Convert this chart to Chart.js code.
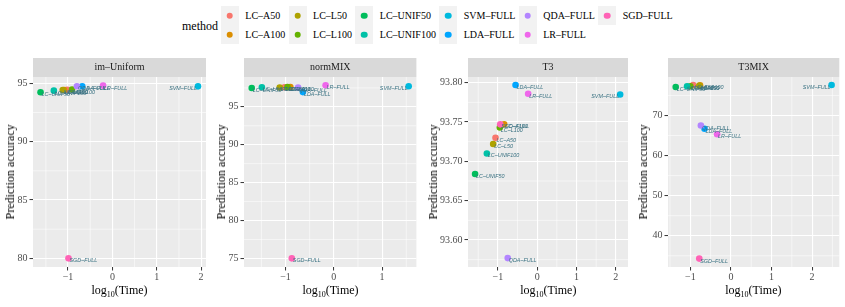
<!DOCTYPE html>
<html><head><meta charset="utf-8">
<script src="https://cdn.jsdelivr.net/npm/chart.js@4.4.1/dist/chart.umd.min.js"></script>
<style>
body{margin:0;background:#fff;width:845px;height:307px;overflow:hidden;position:relative;font-family:"Liberation Serif","Times New Roman",serif;color:#000;}
canvas{position:absolute;}
.xt{position:absolute;font-size:12px;font-weight:normal;transform:translate(-50%,-50%);white-space:nowrap;z-index:2;}
.xt sub{font-size:8px;}
.yt{position:absolute;font-size:12px;font-weight:normal;writing-mode:vertical-rl;transform:translate(-50%,-50%) rotate(180deg);white-space:nowrap;z-index:2;line-height:1;}
#legtitle{position:absolute;left:182px;top:26px;transform:translateY(-50%);font-size:12px;}
#legend{position:absolute;left:221px;top:6px;display:grid;grid-template-rows:19px 19px;grid-auto-flow:column;}
.item{display:flex;align-items:center;font-size:10px;white-space:nowrap;}
.key{width:17.8px;height:19px;background:#F2F2F2;position:relative;}
.dot{position:absolute;left:50%;top:50%;width:6.6px;height:6.6px;border-radius:50%;transform:translate(-50%,-50%);}
.lab{margin-left:6.5px;margin-right:3.5px;}
</style>
</head><body>
<div id="legtitle">method</div>
<div id="legend"></div>
<script>
// ---- data ----
const methods = ['LC–A50','LC–A100','LC–L50','LC–L100','LC–UNIF50','LC–UNIF100','SVM–FULL','LDA–FULL','QDA–FULL','LR–FULL','SGD–FULL'];
const methodColors = ['#F8766D','#DB8E00','#AEA200','#64B200','#00BD5C','#00C1A7','#00BADE','#00A6FF','#B385FF','#EF67EB','#FF63B6'];
const panelNames = ['im–Uniform','normMIX','T3','T3MIX'];

const imUniformTime = [-1.02,-1.09,-1.12,-0.91,-1.62,-1.32,1.93,-0.68,-0.80,-0.21,-0.99];
const imUniformAcc  = [94.44,94.43,94.42,94.46,94.23,94.37,94.74,94.74,94.75,94.80,80.00];
const normMixTime = [-1.02,-0.90,-1.12,-0.96,-1.70,-1.49,1.55,-0.64,-0.74,-0.17,-0.87];
const normMixAcc  = [97.58,97.60,97.56,97.60,97.49,97.58,97.72,96.95,97.55,97.85,75.00];
const t3Time = [-1.06,-0.84,-1.12,-0.95,-1.58,-1.28,2.11,-0.55,-0.75,-0.23,-0.94];
const t3Acc  = [93.730,93.747,93.722,93.743,93.684,93.710,93.785,93.797,93.577,93.786,93.747];
const t3MixTime = [-0.93,-0.76,-0.78,-1.00,-1.36,-1.08,2.48,-0.65,-0.74,-0.34,-0.78];
const t3MixAcc  = [77.6,77.5,77.4,77.3,77.1,77.3,77.6,66.7,67.5,65.3,34.3];

const imUniformXTicks = [-1,0,1,2];
const imUniformYTicks = [80,85,90,95];
const normMixXTicks = [-1,0,1];
const normMixYTicks = [75,80,85,90,95];
const t3XTicks = [-1,0,1,2];
const t3YTicks = [93.60,93.65,93.70,93.75,93.80];
const t3MixXTicks = [-1,0,1,2];
const t3MixYTicks = [40,50,60,70];

// ---- layout / scale settings ----
const panels = [
  {name:panelNames[0], time:imUniformTime, acc:imUniformAcc, xt:imUniformXTicks, yt:imUniformYTicks, xr:[-1.79,2.11], yr:[79.26,95.54], left:33, right:206, ytx:10, dec:0},
  {name:panelNames[1], time:normMixTime, acc:normMixAcc, xt:normMixXTicks, yt:normMixYTicks, xr:[-1.86,1.71], yr:[73.86,98.94], left:244.3, right:416.7, ytx:221, dec:0},
  {name:panelNames[2], time:t3Time, acc:t3Acc, xt:t3XTicks, yt:t3YTicks, xr:[-1.76,2.31], yr:[93.5657,93.8072], left:468.3, right:628.3, ytx:433, dec:2},
  {name:panelNames[3], time:t3MixTime, acc:t3MixAcc, xt:t3MixXTicks, yt:t3MixYTicks, xr:[-1.55,2.67], yr:[32.2,79.6], left:667.7, right:839, ytx:643, dec:0}
];
const STRIP_TOP = 58, PLOT_TOP = 77, PLOT_BOTTOM = 267, YW = 30, XH = 22, PADR = 6;
const SERIF = "'Liberation Serif','Times New Roman',serif";

// legend
const leg = document.getElementById('legend');
methods.forEach((m,i)=>{
  const it = document.createElement('div'); it.className='item';
  it.innerHTML = '<div class="key"><div class="dot" style="background:'+methodColors[i]+'"></div></div><span class="lab">'+m+'</span>';
  leg.appendChild(it);
});

function fmt(v, dec){
  const s = Math.abs(v).toFixed(dec);
  return v < -1e-9 ? '\u2212' + s : s;
}

const panelPlugin = {
  id:'panelPlugin',
  beforeDraw(chart){
    const {ctx, chartArea:a, scales} = chart;
    const cfg = chart.options.plugins.panelPlugin;
    ctx.save();
    ctx.fillStyle = '#EBEBEB';
    ctx.fillRect(a.left, a.top, a.right-a.left, a.bottom-a.top);
    ctx.strokeStyle = '#FFFFFF'; ctx.lineWidth = 0.55;
    const minors = (t, lo, hi) => {
      const st = t[1]-t[0], out=[];
      for (let k=-1;k<t.length;k++){ const v = t[0]+st*(k+0.5); if (v>lo && v<hi) out.push(v); }
      return out;
    };
    minors(cfg.xt, cfg.xr[0], cfg.xr[1]).forEach(v=>{
      const px = scales.x.getPixelForValue(v);
      ctx.beginPath(); ctx.moveTo(px, a.top); ctx.lineTo(px, a.bottom); ctx.stroke();
    });
    minors(cfg.yt, cfg.yr[0], cfg.yr[1]).forEach(v=>{
      const py = scales.y.getPixelForValue(v);
      ctx.beginPath(); ctx.moveTo(a.left, py); ctx.lineTo(a.right, py); ctx.stroke();
    });
    ctx.fillStyle = '#D9D9D9';
    ctx.fillRect(a.left, a.top-19, a.right-a.left, 19);
    ctx.fillStyle = '#1A1A1A';
    ctx.font = '10px ' + SERIF;
    ctx.textAlign = 'center'; ctx.textBaseline = 'middle';
    ctx.fillText(cfg.name, (a.left+a.right)/2, a.top-9.5);
    ctx.restore();
  },
  afterDatasetsDraw(chart){
    const {ctx, chartArea:a} = chart;
    ctx.save();
    ctx.font = 'italic 5.4px "Liberation Sans", Arial, sans-serif';
    ctx.fillStyle = '#3A7282';
    ctx.textBaseline = 'middle';
    methods.forEach((m,i)=>{
      const el = chart.getDatasetMeta(i).data[0];
      const w = ctx.measureText(m).width;
      if (el.x + 2 + w > a.right) { ctx.textAlign='right'; ctx.fillText(m, el.x-1, el.y+2.5); }
      else { ctx.textAlign='left'; ctx.fillText(m, el.x+1, el.y+2.5); }
    });
    ctx.restore();
  }
};

panels.forEach(p=>{
  const plotW = p.right - p.left, plotH = PLOT_BOTTOM - PLOT_TOP;
  const cv = document.createElement('canvas');
  const W = Math.round(YW + plotW + PADR), H = Math.round(19 + plotH + XH);
  cv.width = W; cv.height = H;
  cv.style.left = (p.left - YW) + 'px'; cv.style.top = STRIP_TOP + 'px';
  cv.style.width = W+'px'; cv.style.height = H+'px';
  document.body.appendChild(cv);

  const yt = document.createElement('div'); yt.className='yt'; yt.textContent='Prediction accuracy';
  yt.style.left = p.ytx+'px'; yt.style.top = ((PLOT_TOP+PLOT_BOTTOM)/2)+'px';
  document.body.appendChild(yt);
  const xt = document.createElement('div'); xt.className='xt'; xt.innerHTML='log<sub>10</sub>(Time)';
  xt.style.left = ((p.left+p.right)/2)+'px'; xt.style.top = '290.5px';
  document.body.appendChild(xt);

  const axisCommon = {
    type:'linear',
    border:{display:false},
    grid:{color:'#FFFFFF', lineWidth:1.1, drawTicks:true, tickLength:3.5, tickColor:'#333333', tickWidth:1},
  };
  new Chart(cv.getContext('2d'), {
    type:'scatter',
    data:{datasets: methods.map((m,i)=>({
      label:m, data:[{x:p.time[i], y:p.acc[i]}],
      backgroundColor:methodColors[i], borderWidth:0, pointRadius:3.3, pointHoverRadius:3.3,
      order: methods.length - i
    }))},
    options:{
      responsive:false, animation:false, events:[],
      layout:{padding:{top:19, right:W - YW - plotW, left:0, bottom:0}},
      plugins:{legend:{display:false}, tooltip:{enabled:false}, panelPlugin:{name:p.name, xt:p.xt, yt:p.yt, xr:p.xr, yr:p.yr}},
      scales:{
        x:Object.assign({}, axisCommon, {
          min:p.xr[0], max:p.xr[1],
          afterBuildTicks:s=>{ s.ticks = p.xt.map(v=>({value:v})); },
          afterFit:s=>{ s.height = XH; },
          ticks:{font:{family:SERIF, size:10}, color:'#4D4D4D', padding:1, maxRotation:0, autoSkip:false, callback:v=>fmt(v,0)}
        }),
        y:Object.assign({}, axisCommon, {
          min:p.yr[0], max:p.yr[1],
          afterBuildTicks:s=>{ s.ticks = p.yt.map(v=>({value:v})); },
          afterFit:s=>{ s.width = YW; },
          ticks:{font:{family:SERIF, size:10}, color:'#4D4D4D', padding:2, autoSkip:false, callback:v=>fmt(v,p.dec)}
        })
      }
    },
    plugins:[panelPlugin]
  });
});
</script>
</body></html>
